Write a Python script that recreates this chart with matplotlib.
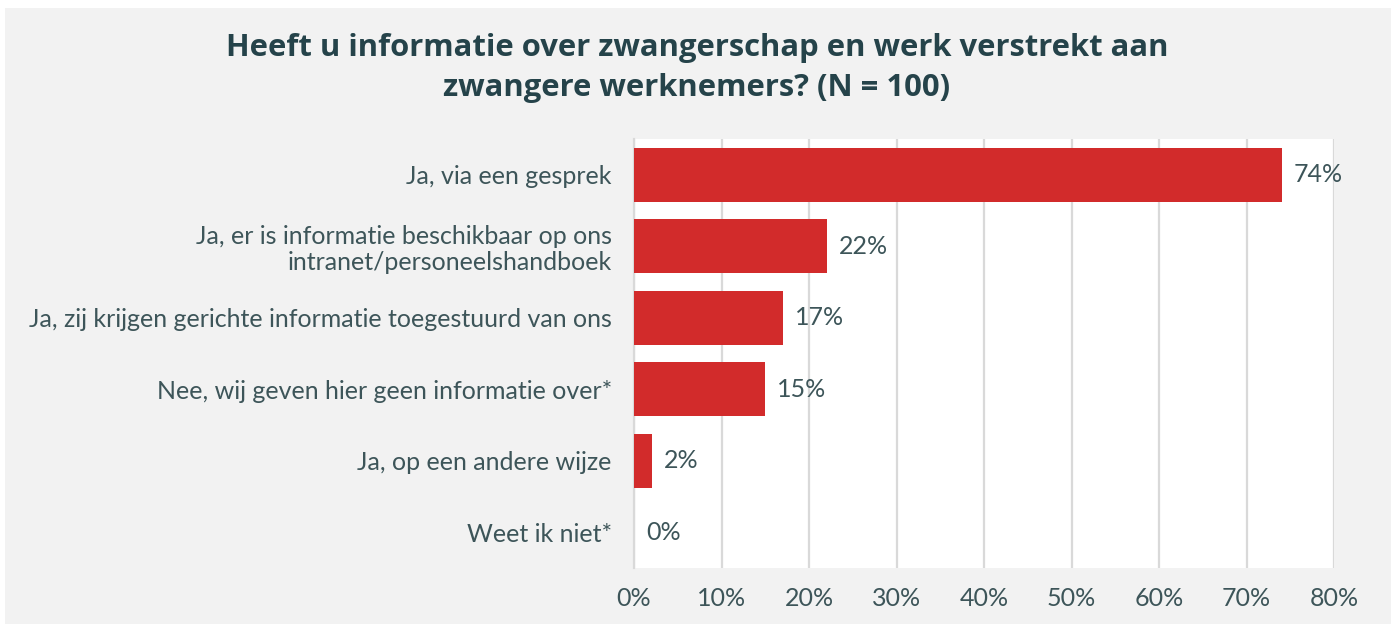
import matplotlib
matplotlib.use("Agg")
import matplotlib.pyplot as plt
from matplotlib.patches import Rectangle

categories = [
    "Ja, via een gesprek",
    "Ja, er is informatie beschikbaar op ons\nintranet/personeelshandboek",
    "Ja, zij krijgen gerichte informatie toegestuurd van ons",
    "Nee, wij geven hier geen informatie over*",
    "Ja, op een andere wijze",
    "Weet ik niet*",
]
values = [74, 22, 17, 15, 2, 0]
ticks = [0, 10, 20, 30, 40, 50, 60, 70, 80]
tick_labels = [f"{t}%" for t in ticks]
title = "Heeft u informatie over zwangerschap en werk verstrekt aan\nzwangere werknemers? (N = 100)"

W, H = 1391, 624
fig = plt.figure(figsize=(W / 100, H / 100), dpi=100)
fig.patch.set_facecolor("white")
fig.patches.append(Rectangle((5 / W, 0), 1, 1 - 8 / H, transform=fig.transFigure,
                             facecolor="#f2f2f2", edgecolor="none", zorder=-10))

text_color = "#3d5559"
title_color = "#25434a"
bar_color = "#d22b2b"
grid_color = "#d9d9d9"
fs = 18

plt.rcParams["font.family"] = ["Lato", "DejaVu Sans"]

left, right = 634 / W, 1334 / W
bottom, top = 1 - 568 / H, 1 - 139 / H
ax = fig.add_axes([left, bottom, right - left, top - bottom])
ax.set_facecolor("white")

y = list(range(len(categories)))
ax.barh(y, values, height=0.76, color=bar_color, zorder=3)
ax.set_ylim(len(categories) - 0.5, -0.5)
ax.set_xlim(0, 80)
ax.set_xticks(ticks)
ax.set_xticklabels(tick_labels, fontsize=fs, color=text_color)
ax.set_yticks(y)
ax.set_yticklabels(categories, fontsize=fs, color=text_color, linespacing=1.15)
ax.tick_params(axis="both", length=0)
ax.tick_params(axis="x", pad=14)
ax.tick_params(axis="y", pad=16)
ax.xaxis.grid(True, color=grid_color, linewidth=1.6, zorder=0)
for s in ["top", "right", "bottom"]:
    ax.spines[s].set_visible(False)
ax.spines["left"].set_color(grid_color)
ax.spines["left"].set_linewidth(1.6)

for yi, v in zip(y, values):
    ax.annotate(f"{v}%", (v, yi), xytext=(12, 0), textcoords="offset pixels",
                va="center", ha="left", fontsize=fs, color=text_color, zorder=4)

fig.text(697 / W, 1 - 68 / H, title, ha="center", va="center", fontsize=22.3,
         fontweight="bold", color=title_color, linespacing=1.4,
         family=["Open Sans", "DejaVu Sans"])

fig.savefig("out.png", dpi=100, facecolor=fig.get_facecolor())
